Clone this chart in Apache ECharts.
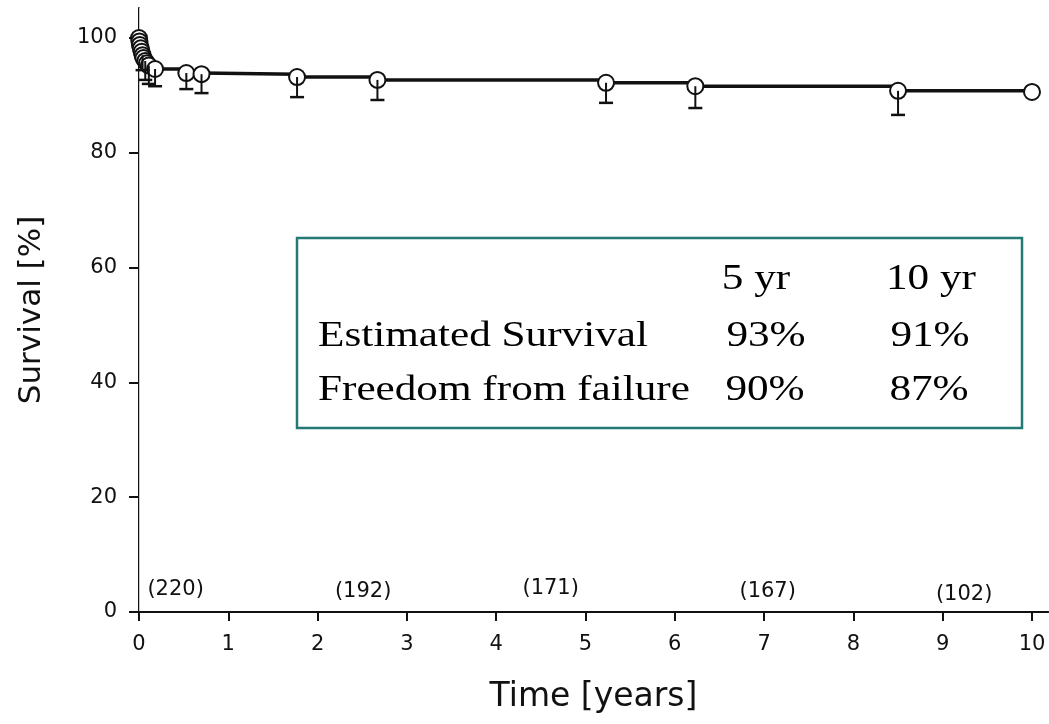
<!DOCTYPE html>
<html>
<head>
<meta charset="utf-8">
<script src="https://cdn.jsdelivr.net/npm/echarts@6/dist/echarts.min.js"></script>
<style>
html,body{margin:0;padding:0;background:#fff;}
#chart{width:1049px;height:724px;}
</style>
</head>
<body>
<div id="chart"></div>
<script>
// ---- data ----
const timeYears   = [0, 0.005, 0.01, 0.02, 0.03, 0.04, 0.05, 0.07, 0.09, 0.11, 0.18, 0.53, 0.70, 1.77, 2.67, 5.23, 6.23, 8.50, 10.0];
const survivalPct = [100, 99.4, 98.8, 98.2, 97.6, 97.0, 96.5, 96.0, 95.6, 95.2, 94.6, 93.9, 93.7, 93.2, 92.7, 92.2, 91.6, 90.8, 90.6];
const lowerCI     = [null, null, null, null, null, 94.4, null, 92.7, null, 92.0, 91.6, 91.1, 90.4, 89.7, 89.2, 88.7, 87.8, 86.6, null];

const atRiskX      = [0.41, 2.51, 4.61, 7.04, 9.24];
const atRiskY      = [3.9, 3.5, 4.0, 3.5, 3.1];
const atRiskLabels = ['(220)', '(192)', '(171)', '(167)', '(102)'];

const yTickValues = [0, 20, 40, 60, 80, 100];
const xTickValues = [0, 1, 2, 3, 4, 5, 6, 7, 8, 9, 10];

const tableHeader = ['5 yr', '10 yr'];
const tableRowNames = ['Estimated Survival', 'Freedom from failure'];
const table5yr  = ['93%', '90%'];
const table10yr = ['91%', '87%'];

// ---- build ----
const curve = timeYears.map((t, i) => [t, survivalPct[i]]);
const bars = [];
timeYears.forEach((t, i) => { if (lowerCI[i] != null) bars.push([t, survivalPct[i], lowerCI[i]]); });
const atRisk = atRiskX.map((x, i) => [x, atRiskY[i], atRiskLabels[i]]);

const INK = '#111';
const SANS = 'DejaVu Sans';
const SERIF = 'Liberation Serif';
const TEAL = '#237a74';
const SX = 1.2;

function tText(str, x, y, align) {
  return {type:'text', x:x, y:y, scaleX:SX, z:20, silent:true,
          style:{text:str, fontFamily:SERIF, fontSize:36, fill:'#000', align:align, verticalAlign:'middle'}};
}
const tableText = [];
const rowY = [337, 391];
const col1 = [766, 765], col2 = [930, 929];
tableText.push(tText(tableHeader[0], 756, 280, 'center'));
tableText.push(tText(tableHeader[1], 931, 280, 'center'));
tableRowNames.forEach((n, i) => {
  tableText.push(tText(n, 318, rowY[i], 'left'));
  tableText.push(tText(table5yr[i], col1[i], rowY[i], 'center'));
  tableText.push(tText(table10yr[i], col2[i], rowY[i], 'center'));
});

const chart = echarts.init(document.getElementById('chart'), null, {renderer:'canvas'});
const option = {
  animation: false,
  backgroundColor: '#fff',
  grid: [
    {left:139, right:17, top:38, bottom:112},   // data grid
    {left:139, right:1, top:8, bottom:112}      // frame
  ],
  xAxis: [
    {
      type:'value', gridIndex:0, min:0, max:10, interval:1,
      axisLine:{show:true, lineStyle:{color:INK, width:2}},
      axisTick:{show:true, length:9, lineStyle:{color:INK, width:2}},
      axisLabel:{show:true, margin:22, fontFamily:SANS, fontSize:21, color:INK,
                 formatter: v => (xTickValues.indexOf(v) >= 0 ? String(v) : '')},
      splitLine:{show:false}
    },
    {
      type:'value', gridIndex:1, position:'bottom', min:0, max:1,
      axisLine:{show:true, lineStyle:{color:INK, width:2}},
      axisTick:{show:false}, axisLabel:{show:false}, splitLine:{show:false},
      name:'Time [years]', nameLocation:'middle', nameGap:69,
      nameTextStyle:{fontFamily:SANS, fontSize:33, color:INK}
    },
    {
      type:'value', gridIndex:1, position:'top', min:0, max:1,
      axisLine:{show:true, lineStyle:{color:INK, width:2}},
      axisTick:{show:false}, axisLabel:{show:false}, splitLine:{show:false}
    }
  ],
  yAxis: [
    {
      type:'value', gridIndex:0, min:0, max:100, interval:20,
      axisLine:{show:true, lineStyle:{color:INK, width:2}},
      axisTick:{show:true, length:10, lineStyle:{color:INK, width:2}},
      axisLabel:{show:true, margin:22, fontFamily:SANS, fontSize:21, color:INK,
                 formatter: v => (yTickValues.indexOf(v) >= 0 ? String(v) : '')},
      splitLine:{show:false}
    },
    {
      type:'value', gridIndex:1, position:'left', min:0, max:1,
      axisLine:{show:true, lineStyle:{color:INK, width:2}},
      axisTick:{show:false}, axisLabel:{show:false}, splitLine:{show:false},
      name:'Survival [%]', nameLocation:'middle', nameGap:92, nameRotate:90,
      nameTextStyle:{fontFamily:SANS, fontSize:31, color:INK}
    },
    {
      type:'value', gridIndex:1, position:'right', min:0, max:1,
      axisLine:{show:true, lineStyle:{color:'#c8c8c8', width:1}},
      axisTick:{show:false}, axisLabel:{show:false}, splitLine:{show:false}
    }
  ],
  series: [
    {
      type:'line', xAxisIndex:0, yAxisIndex:0, data:curve, step:'end',
      lineStyle:{color:INK, width:3.5},
      symbol:'circle', symbolSize:16, showAllSymbol:true,
      itemStyle:{color:'#fff', borderColor:INK, borderWidth:2},
      z:3
    },
    {
      type:'custom', xAxisIndex:0, yAxisIndex:0, data:bars,
      encode:{x:0, y:[1,2]},
      renderItem: function(params, api){
        const top = api.coord([api.value(0), api.value(1)]);
        const bot = api.coord([api.value(0), api.value(2)]);
        const cap = 7;
        return {type:'group', children:[
          {type:'line', shape:{x1:top[0], y1:top[1], x2:bot[0], y2:bot[1]}, style:{stroke:INK, lineWidth:2}},
          {type:'line', shape:{x1:bot[0]-cap, y1:bot[1], x2:bot[0]+cap, y2:bot[1]}, style:{stroke:INK, lineWidth:2.5}}
        ]};
      },
      z:4
    },
    {
      type:'scatter', xAxisIndex:0, yAxisIndex:0, data:atRisk, symbolSize:0,
      itemStyle:{opacity:1},
      label:{show:true, position:'inside', formatter: p => p.value[2],
             fontFamily:SANS, fontSize:21, color:INK, opacity:1, textBorderWidth:0},
      emphasis:{disabled:true},
      silent:true, z:2
    }
  ],
  graphic: [
    {type:'rect', shape:{x:297, y:238, width:725, height:190}, style:{fill:'#fff', stroke:TEAL, lineWidth:2.5}, z:10, silent:true}
  ].concat(tableText)
};
chart.setOption(option);
</script>
</body>
</html>
